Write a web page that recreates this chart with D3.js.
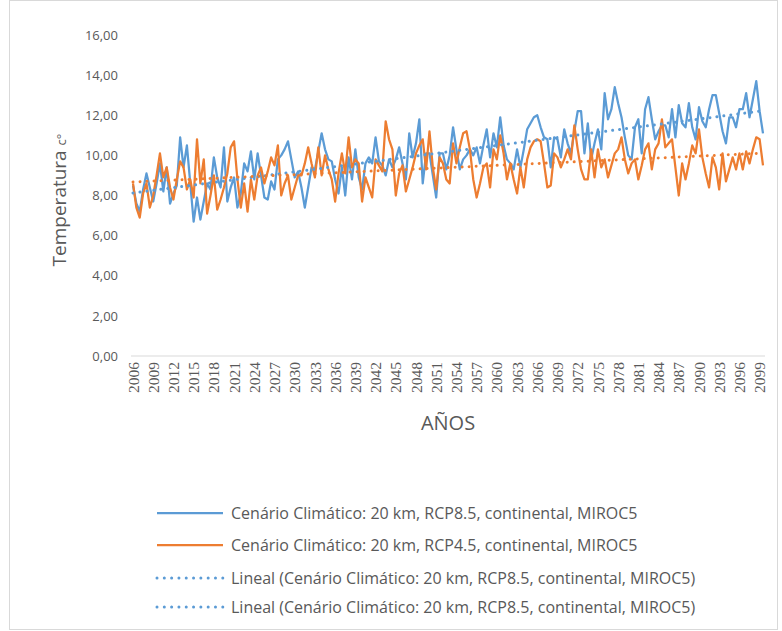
<!DOCTYPE html>
<html><head><meta charset="utf-8">
<script src="https://cdn.jsdelivr.net/npm/d3@7"></script>
<style>body{margin:0;background:#fff}svg{display:block}</style>
</head><body>
<svg id="c" width="782" height="631"></svg>
<script>
const years = d3.range(2006, 2100);
const categories = years.flatMap(y => [y, y]);
const tickYears = d3.range(2006, 2100, 3);
const yTicks = [0, 2, 4, 6, 8, 10, 12, 14, 16];

const rcp85 = [
8.5,7.6,7.2,8.3,9.1,8.4,7.7,8.6,9.6,8.2,
9.4,7.6,8.1,8.5,10.9,9.4,10.5,8.6,6.7,7.9,
6.8,7.7,8.6,8.3,9.9,8.9,8.4,10.4,7.7,8.4,
8.9,7.4,8.1,9.6,9.2,10.2,8.8,10.1,9.0,7.9,
7.8,8.7,8.3,9.8,10.0,10.3,10.7,9.8,8.9,9.2,
8.4,7.4,8.4,9.4,9.3,10.2,11.1,10.3,9.8,9.7,
8.8,8.1,9.4,8.0,9.9,8.8,10.3,8.9,8.3,9.6,
9.9,9.6,10.9,9.7,9.5,9.0,9.8,9.4,9.8,10.4,
9.6,8.8,11.1,9.9,10.6,11.8,8.6,10.1,10.1,9.0,
7.9,10.1,10.1,9.3,10.0,11.4,10.3,9.3,9.8,10.0,
10.3,10.0,10.4,9.6,10.5,11.3,9.9,11.1,10.4,11.9,
10.5,9.8,9.6,9.3,10.3,9.4,10.3,11.3,11.6,11.9,
12.0,11.4,10.9,10.8,9.4,10.9,10.8,9.9,11.3,10.6,
10.1,11.2,12.2,12.2,10.1,11.6,9.8,10.6,11.3,10.3,
13.1,11.8,12.3,13.4,12.6,11.9,10.9,10.0,9.8,11.4,
11.8,10.1,12.3,12.9,11.8,10.8,11.2,11.5,11.5,10.9,
12.3,10.9,12.5,11.6,11.4,12.6,11.4,10.8,12.4,11.7,
11.4,12.3,13.0,13.0,12.1,11.2,10.6,11.9,11.9,11.4,
12.3,12.3,13.1,11.9,12.8,13.7,12.2,11.1
];
const rcp45 = [
8.6,7.4,6.9,8.1,8.6,7.4,8.0,9.0,10.1,8.9,
9.4,8.4,7.8,8.8,9.7,9.4,8.3,8.8,7.9,10.8,
8.6,9.8,7.1,8.0,9.0,7.3,7.8,8.4,9.1,10.4,
10.7,8.8,7.4,8.6,7.2,8.8,7.8,9.0,9.4,8.6,
9.2,9.9,9.5,10.5,8.0,8.6,9.0,7.8,8.4,9.0,
9.0,9.6,10.4,9.6,8.9,10.4,9.0,10.0,9.3,8.8,
7.7,9.1,10.1,9.1,10.9,9.4,9.8,9.6,7.7,8.9,
8.4,7.9,9.8,9.5,9.2,11.7,10.8,10.3,8.0,9.1,
9.5,8.2,8.8,9.4,10.1,10.5,10.8,9.3,11.2,9.4,
8.3,9.9,9.6,8.8,8.6,10.6,9.6,10.4,11.1,11.2,
10.3,8.8,7.9,8.6,9.4,9.6,8.4,10.3,9.8,11.0,
10.1,8.8,9.6,8.8,8.1,9.4,8.4,9.8,10.4,10.7,
10.8,10.7,9.6,8.4,8.5,10.1,9.9,9.4,9.8,10.3,
9.8,11.5,10.3,9.3,8.8,8.8,10.3,8.9,10.3,9.4,
9.8,8.9,9.5,10.1,10.3,10.9,9.8,9.1,9.6,9.8,
8.8,9.5,10.3,10.6,9.3,10.3,10.6,11.8,10.4,10.6,
10.8,9.4,8.0,9.6,8.8,9.6,10.5,10.1,11.3,9.9,
9.1,8.4,9.9,9.4,8.3,10.1,8.7,9.3,9.9,9.3,
10.1,9.3,10.2,9.6,10.3,10.9,10.8,9.5
];
const seriesNames = [
  "Cenário Climático: 20 km, RCP8.5, continental, MIROC5",
  "Cenário Climático: 20 km, RCP4.5, continental, MIROC5",
  "Lineal (Cenário Climático: 20 km, RCP8.5, continental, MIROC5)",
  "Lineal (Cenário Climático: 20 km, RCP8.5, continental, MIROC5)"
];
const BLUE = "#5B9BD5", ORANGE = "#ED7D31", TXT = "#595959";

const svg = d3.select("#c");
svg.append("rect").attr("x", 9.5).attr("y", 0.5).attr("width", 768).attr("height", 629)
  .attr("fill", "#fff").attr("stroke", "#d9d9d9");

const idx = d3.range(categories.length);
const x = d3.scalePoint().domain(idx).range([133, 763]);
const y = d3.scaleLinear().domain([0, 16]).range([356, 35]);

// y labels
const gy = svg.append("g").attr("transform", "translate(118,0)")
  .call(d3.axisLeft(y).tickValues(yTicks).tickSize(0).tickPadding(0)
    .tickFormat(d => d3.format(".2f")(d).replace(".", ",")));
gy.select(".domain").remove();
gy.selectAll("text").attr("fill", TXT).style("font-family", "'Open Sans'").style("font-size", "13px");

// baseline
svg.append("line").attr("x1", 131).attr("x2", 765).attr("y1", y(0)).attr("y2", y(0))
  .attr("stroke", "#d9d9d9").attr("stroke-width", 1);

// x labels
const tickIdx = idx.filter(i => i % 6 === 0);
const gx = svg.append("g").attr("transform", `translate(0,${y(0)})`)
  .call(d3.axisBottom(x).tickValues(tickIdx).tickSize(0).tickPadding(0)
    .tickFormat(i => categories[i]));
gx.select(".domain").remove();
gx.selectAll("text").attr("fill", TXT)
  .style("font-family", "'Liberation Serif', 'DejaVu Serif', serif").style("font-size", "15.5px")
  .attr("text-anchor", "end").attr("transform", "rotate(-90)")
  .attr("x", -6).attr("y", 0).attr("dy", "0.33em");

// series
const line = d3.line().x((d, i) => x(i)).y(d => y(d));
function trend(vals) {
  const n = vals.length, mx = d3.mean(idx), my = d3.mean(vals);
  let sxy = 0, sxx = 0;
  vals.forEach((v, i) => { sxy += (i - mx) * (v - my); sxx += (i - mx) * (i - mx); });
  const b = sxy / sxx, a = my - b * mx;
  return [[0, a], [n - 1, a + b * (n - 1)]];
}
const tline = d3.line().x(d => x(d[0])).y(d => y(d[1]));

svg.append("path").datum(rcp85).attr("d", line).attr("fill", "none")
  .attr("stroke", BLUE).attr("stroke-width", 2.25).attr("stroke-linejoin", "round");
svg.append("path").datum(rcp45).attr("d", line).attr("fill", "none")
  .attr("stroke", ORANGE).attr("stroke-width", 2.25).attr("stroke-linejoin", "round");
svg.append("path").datum(trend(rcp85)).attr("d", tline).attr("fill", "none")
  .attr("stroke", BLUE).attr("stroke-width", 3).attr("stroke-linecap", "round")
  .attr("stroke-dasharray", "0.01 7");
svg.append("path").datum(trend(rcp45)).attr("d", tline).attr("fill", "none")
  .attr("stroke", ORANGE).attr("stroke-width", 3).attr("stroke-linecap", "round")
  .attr("stroke-dasharray", "0.01 7");

// axis titles
svg.append("text").attr("transform", "translate(66,200) rotate(-90)")
  .attr("text-anchor", "middle").attr("fill", TXT).style("font", "19px 'Open Sans'")
  .text("Temperatura ").append("tspan").style("font-size", "13px").text("c°");
svg.append("text").attr("x", 448).attr("y", 430).attr("text-anchor", "middle")
  .attr("fill", TXT).style("font", "20px 'Open Sans'").text("AÑOS");

// legend
const legY = [513, 545, 578, 607];
const legStyle = [
  {c: BLUE, dot: false}, {c: ORANGE, dot: false}, {c: BLUE, dot: true}, {c: BLUE, dot: true}
];
const lg = svg.append("g");
seriesNames.forEach((name, i) => {
  const s = legStyle[i];
  const l = lg.append("line").attr("x1", 157).attr("x2", 223).attr("y1", legY[i]).attr("y2", legY[i])
    .attr("stroke", s.c);
  if (s.dot) l.attr("stroke-width", 3).attr("stroke-linecap", "round").attr("stroke-dasharray", "0.01 7.3");
  else l.attr("stroke-width", 2.25);
  lg.append("text").attr("x", 231).attr("y", legY[i]).attr("dy", "0.35em")
    .attr("fill", TXT).style("font", "16px 'Open Sans'").text(name);
});
</script>
</body></html>
